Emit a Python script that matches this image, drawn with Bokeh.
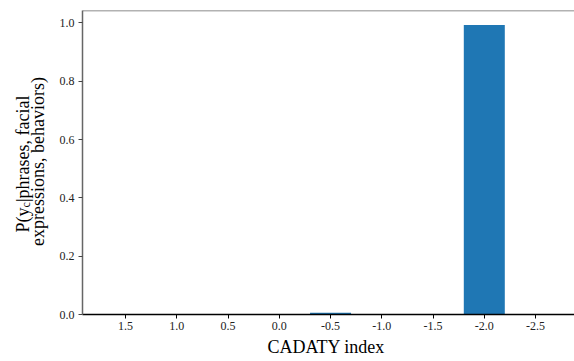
import math
from bokeh.plotting import figure
from bokeh.layouts import row
from bokeh.models import Range1d, FixedTicker, PrintfTickFormatter, Label, Span
from bokeh.embed import file_html
from bokeh.resources import INLINE

# data
cadaty_index = [1.5, 1.0, 0.5, 0.0, -0.5, -1.0, -1.5, -2.0, -2.5]
probability = [0.0005, 0.0005, 0.0005, 0.0005, 0.006, 0.001, 0.0005, 0.993, 0.0005]
x_ticks = [1.5, 1.0, 0.5, 0.0, -0.5, -1.0, -1.5, -2.0, -2.5]
y_ticks = [0.0, 0.2, 0.4, 0.6, 0.8, 1.0]
x_label = "CADATY  index"
y_label_line1 = ("P(y", "c", "|phrases, facial")
y_label_line2 = "expressions, behaviors)"

FONT = "Liberation Serif"
BAR_COLOR = "#1f77b4"
LABEL_W = 50

# main plot
p = figure(width=574 - LABEL_W, height=361, output_backend="svg", toolbar_location=None,
           x_range=Range1d(1.92, -2.88), y_range=Range1d(0, max(probability) * 1.05),
           min_border_left=82 - LABEL_W, min_border_right=0, min_border_top=10, min_border_bottom=47)

p.vbar(x=cadaty_index, top=probability, width=0.4, bottom=0, color=BAR_COLOR, line_color=None)

p.xgrid.visible = False
p.ygrid.visible = False
p.outline_line_color = None

top_line = Span(location=p.y_range.end, dimension="width", line_color="#666666", line_width=1.5)
p.add_layout(top_line)

p.xaxis.major_label_text_font = FONT
p.yaxis.major_label_text_font = FONT
p.xaxis.major_label_text_font_size = "12px"
p.yaxis.major_label_text_font_size = "12px"
p.xaxis.major_label_text_color = "#222222"
p.yaxis.major_label_text_color = "#222222"
p.xaxis.minor_tick_line_color = None
p.yaxis.minor_tick_line_color = None
p.xaxis.major_tick_in = 0
p.yaxis.major_tick_in = 0
p.xaxis.major_tick_out = 4
p.yaxis.major_tick_out = 4
p.xaxis.formatter = PrintfTickFormatter(format="%.1f")
p.yaxis.formatter = PrintfTickFormatter(format="%.1f")
p.xaxis.ticker = FixedTicker(ticks=x_ticks)
p.yaxis.ticker = FixedTicker(ticks=y_ticks)

p.xaxis.axis_line_color = "black"
p.xaxis.axis_line_width = 1.5
p.xaxis.major_tick_line_color = "black"
p.xaxis.major_label_standoff = 3
p.xaxis.axis_label = x_label
p.xaxis.axis_label_text_font = FONT
p.xaxis.axis_label_text_font_size = "18px"
p.xaxis.axis_label_text_font_style = "normal"
p.xaxis.axis_label_text_color = "black"
p.xaxis.axis_label_standoff = 4

p.yaxis.axis_line_color = "#666666"
p.yaxis.axis_line_width = 1.5
p.yaxis.major_tick_line_color = "#444444"
p.yaxis.major_label_standoff = 4

# y-axis title panel (rotated two-line label with subscript);
# its frame is aligned with the main frame by the row layout
lab = figure(width=LABEL_W, height=361, output_backend="svg", toolbar_location=None,
             min_border=0, x_axis_location=None, y_axis_location=None,
             x_range=Range1d(0, 1), y_range=Range1d(0, 1))
lab.outline_line_color = None
lab.xgrid.visible = False
lab.ygrid.visible = False

ang = math.pi / 2
common = dict(x_units="screen", y_units="screen", angle=ang, text_font=FONT,
              text_color="black", text_baseline="alphabetic", text_align="left")
lab.add_layout(Label(x=22, y=82, text=y_label_line1[0], text_font_size="18px", **common))
lab.add_layout(Label(x=25, y=107, text=y_label_line1[1], text_font_size="12px", **common))
lab.add_layout(Label(x=22, y=112.5, text=y_label_line1[2], text_font_size="18px", **common))
common2 = dict(common)
common2["text_align"] = "center"
lab.add_layout(Label(x=37, y=153, text=y_label_line2, text_font_size="18px", **common2))

layout = row(lab, p, spacing=0)
open("out.html", "w").write(file_html(layout, INLINE))
